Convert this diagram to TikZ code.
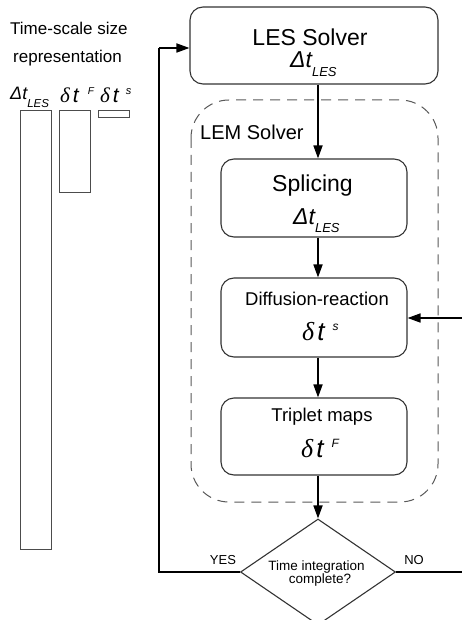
\documentclass[tikz,border=0pt]{standalone}
\usepackage{fontspec}
\setmainfont{Liberation Sans}
\newfontfamily\grserif{Liberation Serif}
\usetikzlibrary{arrows.meta,shapes.geometric}
\newcommand\fsz[1]{\fontsize{#1}{#1}\selectfont}
% Delta t_LES : main size, sub size, drop
\newcommand\DtX[3]{{\fsz{#1}\itshape Δt}\raisebox{-#3}{\fsz{#2}\itshape LES}}
% delta t^x : main size, sup size, raise, gap, sup text
\newcommand\dtX[5]{{\fsz{#1}\grserif\itshape δ}\hspace{3pt}{\fsz{#1}\itshape t}\hspace{#4}\raisebox{#3}{\fsz{#2}\itshape #5}}
\tikzset{
  x=1pt, y=-1pt,
  stage/.style={draw=black!80, line width=1.1pt, rounded corners=13pt, minimum width=186pt, minimum height=78pt, inner sep=0pt},
  txt/.style={inner sep=0pt, anchor=base west},
  ctxt/.style={inner sep=0pt, anchor=base},
  flow/.style={line width=1.7pt, -{Triangle[length=13pt,width=9pt]}},
  loop/.style={line width=1.7pt},
  bar/.style={draw=black!70, line width=1pt},
  lem/.style={draw=black!65, line width=1pt, dash pattern=on 10pt off 7pt, rounded corners=38pt}
}
\begin{document}
\begin{tikzpicture}
\useasboundingbox (0,0) rectangle (462,620);
\clip (0,0) rectangle (462,620);
% left: time-scale representation
\node[txt] (ts1) at (10,35) {\fsz{17}Time-scale size};
\node[txt] (ts2) at (13,63) {\fsz{17}representation};
\node[txt] (sDt) at (10,100) {\DtX{18}{11.5}{8pt}};
\node[txt] (sdF) at (60,103) {\dtX{21}{10}{8pt}{9pt}{F}};
\node[txt] (sds) at (100,103) {\dtX{21}{11}{8pt}{7pt}{s}};
\draw[bar] (20,111) rectangle (51,549);
\draw[bar] (59,111) rectangle (90,193);
\draw[bar] (98,111) rectangle (129,118);
% LEM dashed container
\draw[lem] (191,100) rectangle (438,502);
\node[txt] (lemT) at (200,140) {\fsz{20}LEM Solver};
% boxes
\node[stage, minimum width=248pt, minimum height=77pt] (les) at (314,45.5) {};
\node[ctxt] (lesT) at (310,45.5) {\fsz{23}LES Solver};
\node[txt] (lesD) at (290,68) {\DtX{23}{13}{9pt}};
\node[stage] (spl) at (314,198) {};
\node[ctxt] (splT) at (312.5,192) {\fsz{23}Splicing};
\node[txt] (splD) at (293,225) {\DtX{23}{13}{8pt}};
\node[stage, minimum height=79pt] (dif) at (314,317.5) {};
\node[ctxt] (difT) at (317,305) {\fsz{18.5}Diffusion-reaction};
\node[txt] (difD) at (302,340) {\dtX{26}{12}{10pt}{8pt}{s}};
\node[stage, minimum height=77pt] (tri) at (314,436.5) {};
\node[ctxt] (triT) at (322,421) {\fsz{18.5}Triplet maps};
\node[txt] (triD) at (301,457) {\dtX{26}{12}{10pt}{8pt}{F}};
% decision
\node[diamond, draw=black!80, line width=1.1pt, minimum width=155pt, minimum height=106pt, inner sep=0pt] (dia) at (318,572) {};
\node[ctxt] (diaT1) at (316.5,570) {\fsz{13.5}Time integration};
\node[ctxt] (diaT2) at (320,583) {\fsz{13.5}complete?};
\node[ctxt] (yes) at (223,564) {\fsz{13}YES};
\node[ctxt] (no) at (414,564) {\fsz{13}NO};
% connectors
\draw[flow] (les.south -| dia.north) -- (spl.north -| dia.north);
\draw[flow] (spl.south -| dia.north) -- (dif.north -| dia.north);
\draw[flow] (dif.south -| dia.north) -- (tri.north -| dia.north);
\draw[flow] (tri.south -| dia.north) -- (dia.north);
\coordinate (lc) at (159,48);
\coordinate (rc) at (470,318);
\draw[loop] (dia.west) -| (lc);
\draw[flow] (lc) -- (les.west |- lc);
\draw[loop] (dia.east) -| (rc);
\draw[flow] (rc) -- (dif.east |- rc);
\end{tikzpicture}
\end{document}
